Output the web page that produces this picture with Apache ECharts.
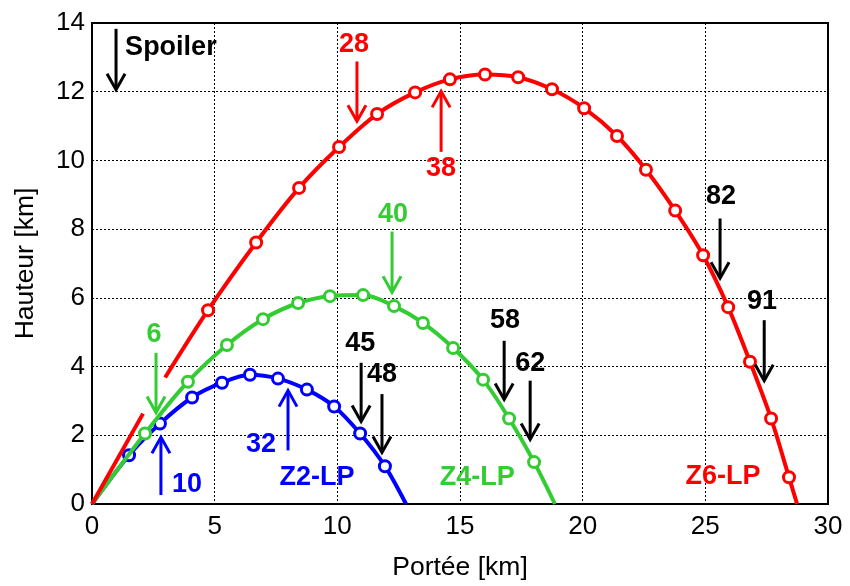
<!DOCTYPE html>
<html>
<head>
<meta charset="utf-8">
<script src="https://cdn.jsdelivr.net/npm/echarts@6/dist/echarts.min.js"></script>
<style>
  html, body { margin: 0; padding: 0; background: #fff; }
  #chart { width: 850px; height: 586px; }
</style>
</head>
<body>
<div id="chart"></div>
<script>
// Trajectories: range (km) vs height (km); circles mark sampled positions.
const z2Start = [0, 0];
const z2Points = [[1.51, 1.42], [2.77, 2.34], [4.08, 3.10], [5.30, 3.53], [6.44, 3.76],
                  [7.58, 3.65], [8.76, 3.33], [9.87, 2.84], [10.93, 2.05], [11.94, 1.10]];
const z2End = [12.80, 0];

const z4Start = [0, 0];
const z4Points = [[2.16, 2.05], [3.91, 3.56], [5.50, 4.63], [6.97, 5.38], [8.40, 5.85],
                  [9.70, 6.05], [11.05, 6.08], [12.31, 5.76], [13.49, 5.27], [14.72, 4.54],
                  [15.94, 3.62], [17.00, 2.49], [18.02, 1.22]];
const z4End = [18.87, 0];

const z6Lead = [[0, 0], [2.08, 2.63]];
const z6Start = [2.98, 3.68];
const z6Points = [[4.73, 5.64], [6.69, 7.61], [8.44, 9.20], [10.07, 10.39], [11.62, 11.35],
                  [13.17, 11.98], [14.59, 12.36], [16.02, 12.50], [17.37, 12.42], [18.75, 12.07],
                  [20.06, 11.52], [21.40, 10.71], [22.58, 9.73], [23.77, 8.54], [24.91, 7.24],
                  [25.93, 5.73], [26.82, 4.14], [27.68, 2.49], [28.41, 0.78]];
const z6End = [28.74, 0];

// Event arrows: [x, y from, y to] (tip at "y to")
const blackArrows = [[0.98, 13.83, 12.06], [10.97, 4.11, 2.40], [11.82, 3.20, 1.50],
                     [16.80, 4.75, 3.04], [17.86, 3.59, 1.88], [25.60, 8.31, 6.57], [27.40, 5.35, 3.59]];
const redArrows = [[10.80, 12.88, 11.14], [14.23, 10.25, 12.01]];
const greenArrows = [[2.61, 4.40, 2.66], [12.23, 7.93, 6.16]];
const blueArrows = [[2.81, 0.26, 1.94], [7.99, 1.56, 3.30]];

// Text annotations: [x, y, text]
const blackTexts = [[10.93, 4.66, '45'], [11.82, 3.76, '48'], [16.83, 5.33, '58'],
                    [17.86, 4.08, '62'], [25.64, 8.96, '82'], [27.31, 5.88, '91']];
const spoilerText = [[1.35, 13.29, 'Spoiler']];
const redTexts = [[10.68, 13.37, '28'], [14.23, 9.75, '38'], [25.72, 0.80, 'Z6-LP']];
const greenTexts = [[2.53, 4.92, '6'], [12.27, 8.42, '40'], [15.70, 0.78, 'Z4-LP']];
const blueTexts = [[3.87, 0.58, '10'], [6.89, 1.74, '32'], [9.17, 0.76, 'Z2-LP']];

const xTicks = [0, 5, 10, 15, 20, 25, 30];
const yTicks = [0, 2, 4, 6, 8, 10, 12, 14];

const RED = '#ff0000', GREEN = '#33cc33', BLUE = '#0000ff', BLACK = '#000000';
const FONT = '"Liberation Sans", Arial, sans-serif';

function pathData(start, points, end) {
  const items = [{ value: start, symbol: 'none' }];
  points.forEach(p => items.push({ value: p }));
  items.push({ value: end, symbol: 'none' });
  return items;
}

function trajectory(name, data, color, z) {
  return {
    name: name, type: 'line', data: data, z: z,
    smooth: 0.3,
    symbol: 'circle', symbolSize: 11, showAllSymbol: true,
    lineStyle: { color: color, width: 4 },
    itemStyle: { color: '#fff', borderColor: color, borderWidth: 3 },
    emphasis: { disabled: true },
    animation: false
  };
}

function arrowSeries(list, color) {
  return {
    type: 'custom', data: list, z: 10, silent: true, animation: false, clip: false,
    renderItem: function (params, api) {
      const x = api.value(0), y0 = api.value(1), y1 = api.value(2);
      const p0 = api.coord([x, y0]);
      const p1 = api.coord([x, y1]);
      const dir = p1[1] > p0[1] ? 1 : -1;
      const hw = 9, hl = 16;
      const style = { stroke: color, lineWidth: 3, fill: null, lineCap: 'butt', lineJoin: 'miter' };
      return {
        type: 'group',
        children: [
          { type: 'line', shape: { x1: p0[0], y1: p0[1], x2: p1[0], y2: p1[1] - dir * 2 }, style: style },
          { type: 'polyline', shape: { points: [[p1[0] - hw, p1[1] - dir * hl], [p1[0], p1[1]], [p1[0] + hw, p1[1] - dir * hl]] }, style: style }
        ]
      };
    }
  };
}

function textSeries(list, color, align) {
  return {
    type: 'custom', data: list, z: 11, silent: true, animation: false, clip: false,
    renderItem: function (params, api) {
      const item = list[params.dataIndex];
      const p = api.coord([item[0], item[1]]);
      return {
        type: 'text', x: p[0], y: p[1],
        style: {
          text: item[2], fill: color, font: 'bold 27px ' + FONT,
          align: align || 'center', verticalAlign: 'middle'
        }
      };
    }
  };
}

const chart = echarts.init(document.getElementById('chart'), null, { renderer: 'canvas' });

chart.setOption({
  backgroundColor: '#fff',
  animation: false,
  grid: { left: 92, right: 22, top: 23, bottom: 79, show: true, borderColor: BLACK, borderWidth: 2, backgroundColor: 'transparent' },
  xAxis: {
    type: 'value', min: xTicks[0], max: xTicks[xTicks.length - 1], interval: 5,
    name: 'Portée [km]', nameLocation: 'middle', nameGap: 50,
    nameTextStyle: { color: BLACK, fontSize: 26.5, fontFamily: FONT },
    axisLine: { show: true, lineStyle: { color: BLACK, width: 2 } },
    axisTick: { show: false },
    axisLabel: { color: BLACK, fontSize: 26, fontFamily: FONT, margin: 10 },
    splitLine: { show: true, lineStyle: { color: BLACK, width: 1, type: [2, 2] } }
  },
  yAxis: {
    type: 'value', min: yTicks[0], max: yTicks[yTicks.length - 1], interval: 2,
    name: 'Hauteur [km]', nameLocation: 'middle', nameGap: 53, nameRotate: 90,
    nameTextStyle: { color: BLACK, fontSize: 26.5, fontFamily: FONT },
    axisLine: { show: true, lineStyle: { color: BLACK, width: 2 } },
    axisTick: { show: false },
    axisLabel: { color: BLACK, fontSize: 26, fontFamily: FONT, margin: 7 },
    splitLine: { show: true, lineStyle: { color: BLACK, width: 1, type: [2, 2] } }
  },
  series: [
    trajectory('Z2-LP', pathData(z2Start, z2Points, z2End), BLUE, 3),
    trajectory('Z4-LP', pathData(z4Start, z4Points, z4End), GREEN, 4),
    {
      name: 'Z6-LP lead', type: 'line', data: z6Lead, z: 5, symbol: 'none',
      lineStyle: { color: RED, width: 4 }, emphasis: { disabled: true }, animation: false
    },
    trajectory('Z6-LP', pathData(z6Start, z6Points, z6End), RED, 5),
    arrowSeries(blackArrows, BLACK),
    arrowSeries(redArrows, RED),
    arrowSeries(greenArrows, GREEN),
    arrowSeries(blueArrows, BLUE),
    textSeries(blackTexts, BLACK),
    textSeries(spoilerText, BLACK, 'left'),
    textSeries(redTexts, RED),
    textSeries(greenTexts, GREEN),
    textSeries(blueTexts, BLUE)
  ]
});
</script>
</body>
</html>
